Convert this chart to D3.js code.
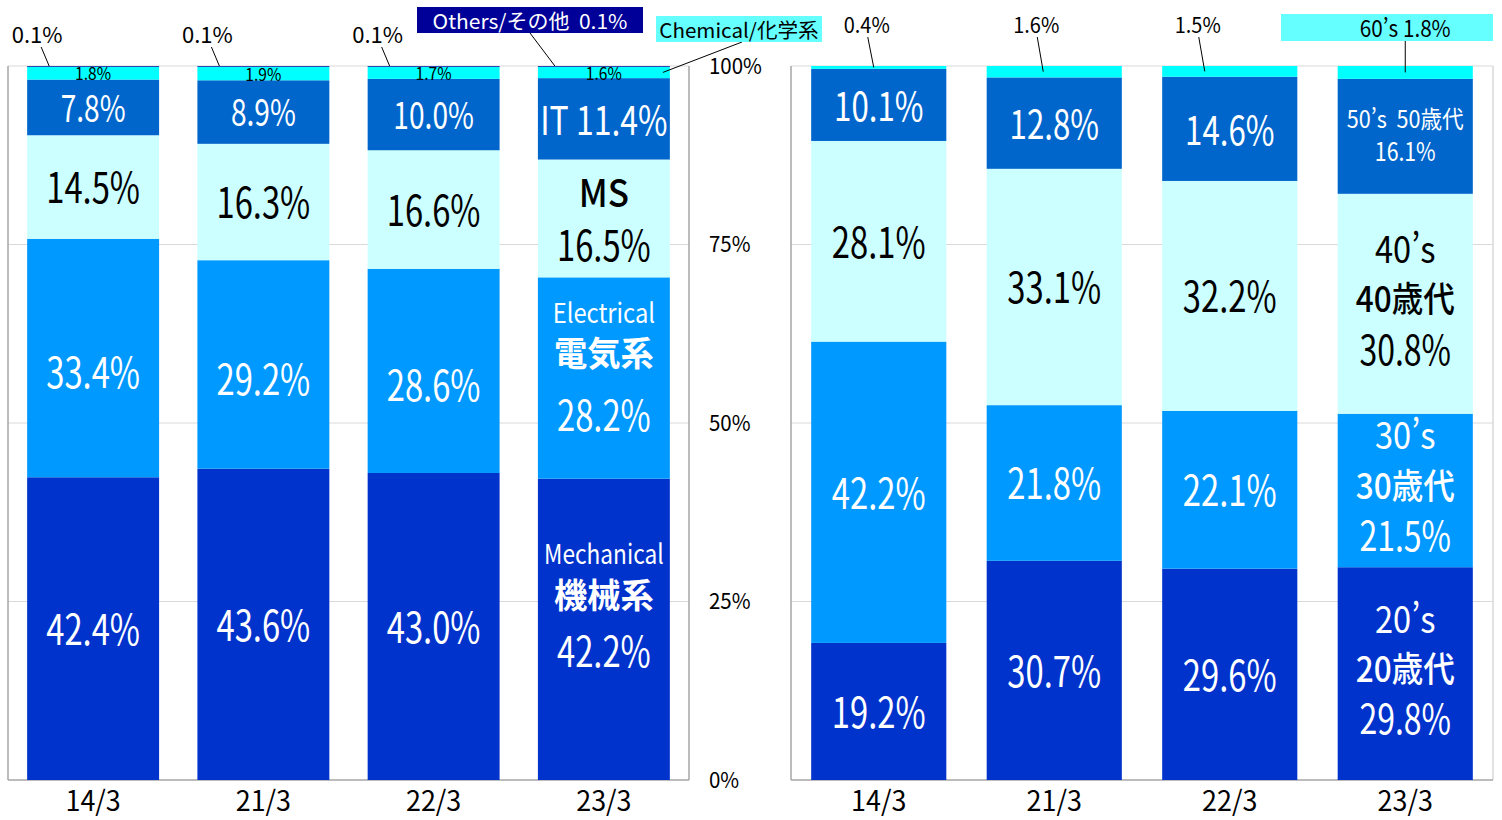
<!DOCTYPE html>
<html lang="ja">
<head>
<meta charset="utf-8">
<title>Engineers by field and age</title>
<script src="https://d3js.org/d3.v7.min.js"></script>
<style>
  body { margin: 0; background: #fff; }
  svg text { font-family: "Noto Sans CJK JP", sans-serif; white-space: pre; }
</style>
</head>
<body>
<div id="chart"></div>
<script>
"use strict"
// --- data ---
var cats = ["14/3", "21/3", "22/3", "23/3"];
var yTicks = [0, 25, 50, 75, 100];

// left chart: by field (bottom -> top)
var fieldKeys = ["mech", "elec", "ms", "it", "chem", "other"];
var fieldEn = ["Mechanical", "Electrical", "MS", "IT", "Chemical", "Others"];
var fieldJa = ["機械系", "電気系", "", "", "化学系", "その他"];
var mech  = [42.4, 43.6, 43.0, 42.2];
var elec  = [33.4, 29.2, 28.6, 28.2];
var ms    = [14.5, 16.3, 16.6, 16.5];
var it    = [7.8, 8.9, 10.0, 11.4];
var chem  = [1.8, 1.9, 1.7, 1.6];
var other = [0.1, 0.1, 0.1, 0.1];

// right chart: by age (bottom -> top)
var ageKeys = ["a20", "a30", "a40", "a50", "a60"];
var ageEn = ["20’s", "30’s", "40’s", "50’s", "60’s"];
var ageJa = ["20歳代", "30歳代", "40歳代", "50歳代", "60歳代"];
var a20 = [19.2, 30.7, 29.6, 29.8];
var a30 = [42.2, 21.8, 22.1, 21.5];
var a40 = [28.1, 33.1, 32.2, 30.8];
var a50 = [10.1, 12.8, 14.6, 16.1];
var a60 = [0.4, 1.6, 1.5, 1.8];

// --- styles ---
var fieldColors = ["#0033cc", "#0099ff", "#ccffff", "#0066cc", "#00ffff", "#000099"];
var ageColors   = ["#0033cc", "#0099ff", "#ccffff", "#0066cc", "#00ffff"];
var fieldText = ["#fff", "#fff", "#000", "#fff", "#000", "#fff"];
var ageText   = ["#fff", "#fff", "#000", "#fff", "#000"];

var W = 1502, H = 820;
var svg = d3.select("#chart").append("svg").attr("width", W).attr("height", H);

var y = d3.scaleLinear().domain([0, 100]).range([780, 66]);
var xL = d3.scaleBand().domain(cats).range([8, 689]).paddingInner(0.225).paddingOuter(0.1125);
var xR = d3.scaleBand().domain(cats).range([791, 1493]).paddingInner(0.23).paddingOuter(0.115);

var pct = function (v) { return v.toFixed(1) + "%"; };

// text helper: centred, horizontally squeezed
function txt(g, x, yy, s, size, sx, fill, weight, anchor) {
  return g.append("text")
    .attr("transform", "translate(" + x + "," + (yy - 2) + ") scale(" + sx + ",1)")
    .attr("text-anchor", anchor || "middle")
    .attr("dominant-baseline", "central")
    .style("font-size", size + "px")
    .style("font-weight", weight || "normal")
    .attr("fill", fill || "#000")
    .text(s);
}

function frame(x, rightColor) {
  var g = svg.append("g");
  var x0 = x.range()[0], x1 = x.range()[1];
  g.selectAll("line.grid").data(yTicks.slice(1)).enter().append("line")
    .attr("x1", x0).attr("x2", x1)
    .attr("y1", d => y(d)).attr("y2", d => y(d))
    .attr("stroke", "#d9d9d9").attr("stroke-width", 1.2);
  g.append("line").attr("x1", x0).attr("x2", x0).attr("y1", y(100)).attr("y2", y(0))
    .attr("stroke", "#a6a6a6").attr("stroke-width", 1.5);
  g.append("line").attr("x1", x1).attr("x2", x1).attr("y1", y(100)).attr("y2", y(0))
    .attr("stroke", rightColor).attr("stroke-width", 1.5);
  g.append("line").attr("x1", x0).attr("x2", x1).attr("y1", y(0)).attr("y2", y(0))
    .attr("stroke", "#a6a6a6").attr("stroke-width", 1.5);
  // category labels
  cats.forEach(function (d) {
    txt(g, x(d) + x.bandwidth() / 2, 801, d, 28, 0.96, "#000");
  });
}

function bars(x, keys, series, colors) {
  var rows = cats.map(function (c, i) {
    var r = { cat: c };
    keys.forEach(function (k, j) { r[k] = series[j][i]; });
    return r;
  });
  var stacked = d3.stack().keys(keys)(rows);
  svg.append("g").selectAll("g").data(stacked).enter().append("g")
    .attr("fill", (d, i) => colors[i])
    .selectAll("rect").data(d => d).enter().append("rect")
    .attr("x", d => x(d.data.cat))
    .attr("width", x.bandwidth())
    .attr("y", d => y(d[1]))
    .attr("height", d => y(d[0]) - y(d[1]));
  return stacked;
}

frame(xL, "#a6a6a6");
frame(xR, "#d9d9d9");

var fieldSeries = [mech, elec, ms, it, chem, other];
var ageSeries = [a20, a30, a40, a50, a60];
var stL = bars(xL, fieldKeys, fieldSeries, fieldColors);
var stR = bars(xR, ageKeys, ageSeries, ageColors);

var lab = svg.append("g");

// y axis labels between the panels
yTicks.forEach(function (t) {
  txt(lab, 709, y(t), t + "%", 22, 0.93, "#000", "normal", "start");
});

function mid(st, k, i) { return (y(st[k][i][0]) + y(st[k][i][1])) / 2; }

// ---- left panel labels ----
var last = cats.length - 1;
cats.forEach(function (c, i) {
  var cx = xL(c) + xL.bandwidth() / 2;
  if (i < last) {
    txt(lab, cx, mid(stL, 0, i), pct(mech[i]), 42, 0.78, fieldText[0]);
    txt(lab, cx, mid(stL, 1, i) + 14, pct(elec[i]), 42, 0.78, fieldText[1]);
    txt(lab, cx, mid(stL, 2, i), pct(ms[i]), 42, 0.78, fieldText[2]);
    txt(lab, cx, mid(stL, 3, i), pct(it[i]), 37, 0.76, fieldText[3]);
  } else {
    var m0 = mid(stL, 0, i);
    txt(lab, cx, m0 - 75, fieldEn[0], 27, 0.84, "#fff");
    txt(lab, cx, m0 - 34, fieldJa[0], 34, 0.98, "#fff", "bold");
    txt(lab, cx, m0 + 21, pct(mech[i]), 42, 0.78, "#fff");
    var m1 = mid(stL, 1, i);
    txt(lab, cx, m1 - 65, fieldEn[1], 27, 0.88, "#fff");
    txt(lab, cx, m1 - 25, fieldJa[1], 34, 0.98, "#fff", "bold");
    txt(lab, cx, m1 + 37, pct(elec[i]), 42, 0.78, "#fff");
    var m2 = mid(stL, 2, i);
    txt(lab, cx, m2 - 26, fieldEn[2], 38, 0.92, "#000", "500");
    txt(lab, cx, m2 + 26, pct(ms[i]), 42, 0.78, "#000");
    txt(lab, cx, mid(stL, 3, i), fieldEn[3] + " " + pct(it[i]), 40, 0.8, "#fff");
  }
  // chemical small label
  txt(lab, cx, mid(stL, 4, i) + 2, pct(chem[i]), 17, 0.92, "#000");
  // others callout
  var bx = xL(c);
  if (i < last) {
    txt(lab, bx + 10, 35, pct(other[i]), 22, 1.0, "#000");
    lab.append("line").attr("x1", bx + 14).attr("y1", 47).attr("x2", bx + 22).attr("y2", y(100))
      .attr("stroke", "#000").attr("stroke-width", 1);
  } else {
    lab.append("line").attr("x1", 530).attr("y1", 33).attr("x2", bx + 17).attr("y2", y(100))
      .attr("stroke", "#000").attr("stroke-width", 1);
    lab.append("rect").attr("x", 417).attr("y", 7).attr("width", 226).attr("height", 26).attr("fill", "#000099");
    txt(lab, 530, 22, fieldEn[5] + "/" + fieldJa[5] + "  " + pct(other[i]), 20, 1.05, "#fff");
    lab.append("line").attr("x1", 742).attr("y1", 42).attr("x2", bx + xL.bandwidth() - 7).attr("y2", mid(stL, 4, i))
      .attr("stroke", "#000").attr("stroke-width", 1);
    lab.append("rect").attr("x", 656).attr("y", 16).attr("width", 166).attr("height", 26).attr("fill", "#66ffff");
    txt(lab, 739, 31, fieldEn[4] + "/" + fieldJa[4], 20, 1.03, "#000");
  }
});

// ---- right panel labels ----
var rightCalloutDx = [-12, -18, -32];
cats.forEach(function (c, i) {
  var cx = xR(c) + xR.bandwidth() / 2;
  if (i < last) {
    txt(lab, cx, mid(stR, 0, i), pct(a20[i]), 42, 0.78, ageText[0]);
    txt(lab, cx, mid(stR, 1, i), pct(a30[i]), 42, 0.78, ageText[1]);
    txt(lab, cx, mid(stR, 2, i), pct(a40[i]), 42, 0.78, ageText[2]);
    txt(lab, cx, mid(stR, 3, i), pct(a50[i]), 40, 0.78, ageText[3]);
    var tx = cx + rightCalloutDx[i];
    txt(lab, tx, 26, pct(a60[i]), 21, 0.95, "#000");
    lab.append("line").attr("x1", tx + 1).attr("y1", 37).attr("x2", tx + 7).attr("y2", mid(stR, 4, i))
      .attr("stroke", "#000").attr("stroke-width", 1);
  } else {
    [0, 1, 2].forEach(function (j) {
      var m = mid(stR, j, i);
      txt(lab, cx, m - 55, ageEn[j], 37, 0.88, ageText[j]);
      txt(lab, cx, m - 5, ageJa[j], 35, 0.9, ageText[j], "500");
      txt(lab, cx, m + 45, pct(ageSeries[j][i]), 41, 0.78, ageText[j]);
    });
    var m3 = mid(stR, 3, i);
    txt(lab, cx, m3 - 16, ageEn[3] + "  " + ageJa[3], 24, 0.9, "#fff");
    txt(lab, cx, m3 + 16, pct(a50[i]), 25, 0.85, "#fff");
    lab.append("line").attr("x1", cx).attr("y1", 41).attr("x2", cx).attr("y2", mid(stR, 4, i))
      .attr("stroke", "#000").attr("stroke-width", 1);
    lab.append("rect").attr("x", 1281).attr("y", 14).attr("width", 212).attr("height", 27).attr("fill", "#66ffff");
    txt(lab, cx, 29, ageEn[4] + " " + pct(a60[i]), 23, 0.9, "#000");
  }
});
</script>
</body>
</html>
